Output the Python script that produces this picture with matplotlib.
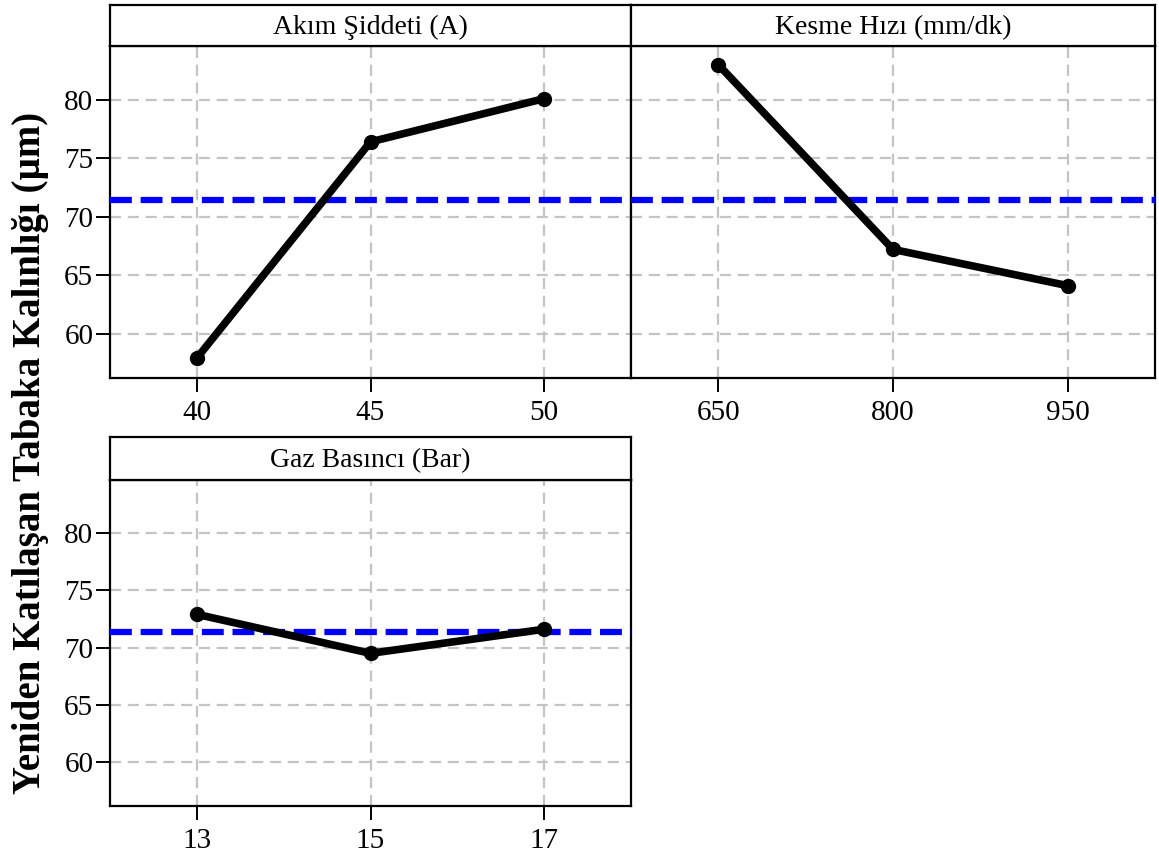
import matplotlib.pyplot as plt
import numpy as np

plt.rcParams['font.family'] = ['Liberation Serif', 'DejaVu Serif']

akim_levels = ["40", "45", "50"]
akim_means = [57.9, 76.4, 80.1]

kesme_levels = ["650", "800", "950"]
kesme_means = [83.0, 67.2, 64.1]

gaz_levels = ["13", "15", "17"]
gaz_means = [72.9, 69.5, 71.6]

grand_mean = 71.4

titles = ["Akım Şiddeti (A)", "Kesme Hızı (mm/dk)", "Gaz Basıncı (Bar)"]
y_ticks = [60, 65, 70, 75, 80]

W, H = 1159, 863
fig = plt.figure(figsize=(W / 100, H / 100), dpi=100)


def frac(x0, x1, y0, y1):
    # pixel box -> figure fraction [left, bottom, width, height]
    return [x0 / W, 1 - y1 / H, (x1 - x0) / W, (y1 - y0) / H]


panels = [
    (akim_levels, akim_means, titles[0], (110, 631, 46, 378), (110, 631, 5, 46), True),
    (kesme_levels, kesme_means, titles[1], (631, 1155, 46, 378), (631, 1155, 5, 46), False),
    (gaz_levels, gaz_means, titles[2], (110, 631, 480, 806), (110, 631, 437, 480), True),
]

for levels, means, title, box, sbox, show_y in panels:
    ax = fig.add_axes(frac(*box))
    x = np.arange(len(levels))
    ax.plot(x, means, color="black", lw=5.5, marker="o", ms=10, zorder=4,
            solid_capstyle="round")
    ax.axhline(grand_mean, color="#0000ff", lw=4.5, dashes=(3.5, 1.4), zorder=3)
    ax.set_xlim(-0.5, 2.5)
    ax.set_ylim(56.2, 84.6)
    ax.set_xticks(x)
    ax.set_xticklabels(levels)
    ax.set_yticks(y_ticks)
    ax.grid(True, color="#c4c4c4", lw=1.6, dashes=(5, 3))
    ax.set_axisbelow(True)
    for s in ax.spines.values():
        s.set_linewidth(1.6)
    ax.tick_params(axis="both", direction="out", length=10, width=1.4,
                   labelsize=21)
    ax.tick_params(axis="x", pad=6)
    ax.tick_params(axis="y", pad=2)
    if not show_y:
        ax.tick_params(axis="y", left=False, labelleft=False)

    sax = fig.add_axes(frac(*sbox))
    sax.set_xticks([])
    sax.set_yticks([])
    for s in sax.spines.values():
        s.set_linewidth(1.6)
    sax.text(0.5, 0.45, title, ha="center", va="center", fontsize=20,
             transform=sax.transAxes)

fig.text(0.026, 1 - 453 / H, "Yeniden Katılaşan Tabaka Kalınlığı (µm)",
         rotation=90, ha="center", va="center", fontsize=28, fontweight="bold")

plt.savefig("out.png", dpi=100)
